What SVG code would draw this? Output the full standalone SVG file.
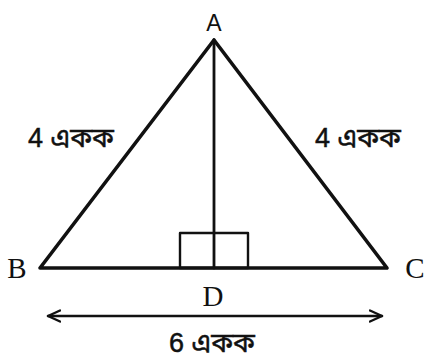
<svg xmlns="http://www.w3.org/2000/svg" width="426" height="361" viewBox="0 0 426 361">
<style>
.ln{stroke:#111;fill:none;stroke-linecap:round;stroke-linejoin:round}
.sans{font-family:"Liberation Sans","Noto Sans","Noto Sans Bengali",sans-serif;fill:#111}
.lbl{font-size:27px;stroke:#111;stroke-width:0.5px}
.serif{font-family:"Liberation Serif",serif;fill:#111}
</style>
<defs>
<marker id="ah" viewBox="0 0 14 14" refX="13" refY="7" markerWidth="14" markerHeight="14" markerUnits="userSpaceOnUse" orient="auto-start-reverse">
<path d="M1,1.5 L13,7 L1,12.5" fill="none" stroke="#111" stroke-width="2.4" stroke-linecap="round" stroke-linejoin="round"/>
</marker>
</defs>
<rect width="426" height="361" fill="#fff"/>
<g id="connectors">
<path class="ln" d="M40,268 L214,40 L387,268 Z" stroke-width="3.6"/>
<line class="ln" x1="214" y1="40" x2="214" y2="268" stroke-width="2.8"/>
<rect class="ln" x="180" y="233" width="68" height="35" stroke-width="2.4"/>
<line class="ln" x1="48" y1="316" x2="382" y2="316" stroke-width="2.6" marker-start="url(#ah)" marker-end="url(#ah)"/>
</g>
<g id="A"><text class="sans" x="214" y="31" font-size="23" text-anchor="middle">A</text></g>
<g id="B"><text class="serif" x="17" y="278" font-size="29" text-anchor="middle">B</text></g>
<g id="C"><text class="serif" x="415" y="278" font-size="29" text-anchor="middle">C</text></g>
<g id="D"><text class="serif" x="213" y="306" font-size="29" text-anchor="middle">D</text></g>
<g id="left-label"><text class="sans lbl" x="71" y="147" text-anchor="middle">4 একক</text></g>
<g id="right-label"><text class="sans lbl" x="358" y="147" text-anchor="middle">4 একক</text></g>
<g id="bottom-label"><text class="sans lbl" x="212" y="352" text-anchor="middle">6 একক</text></g>
</svg>
